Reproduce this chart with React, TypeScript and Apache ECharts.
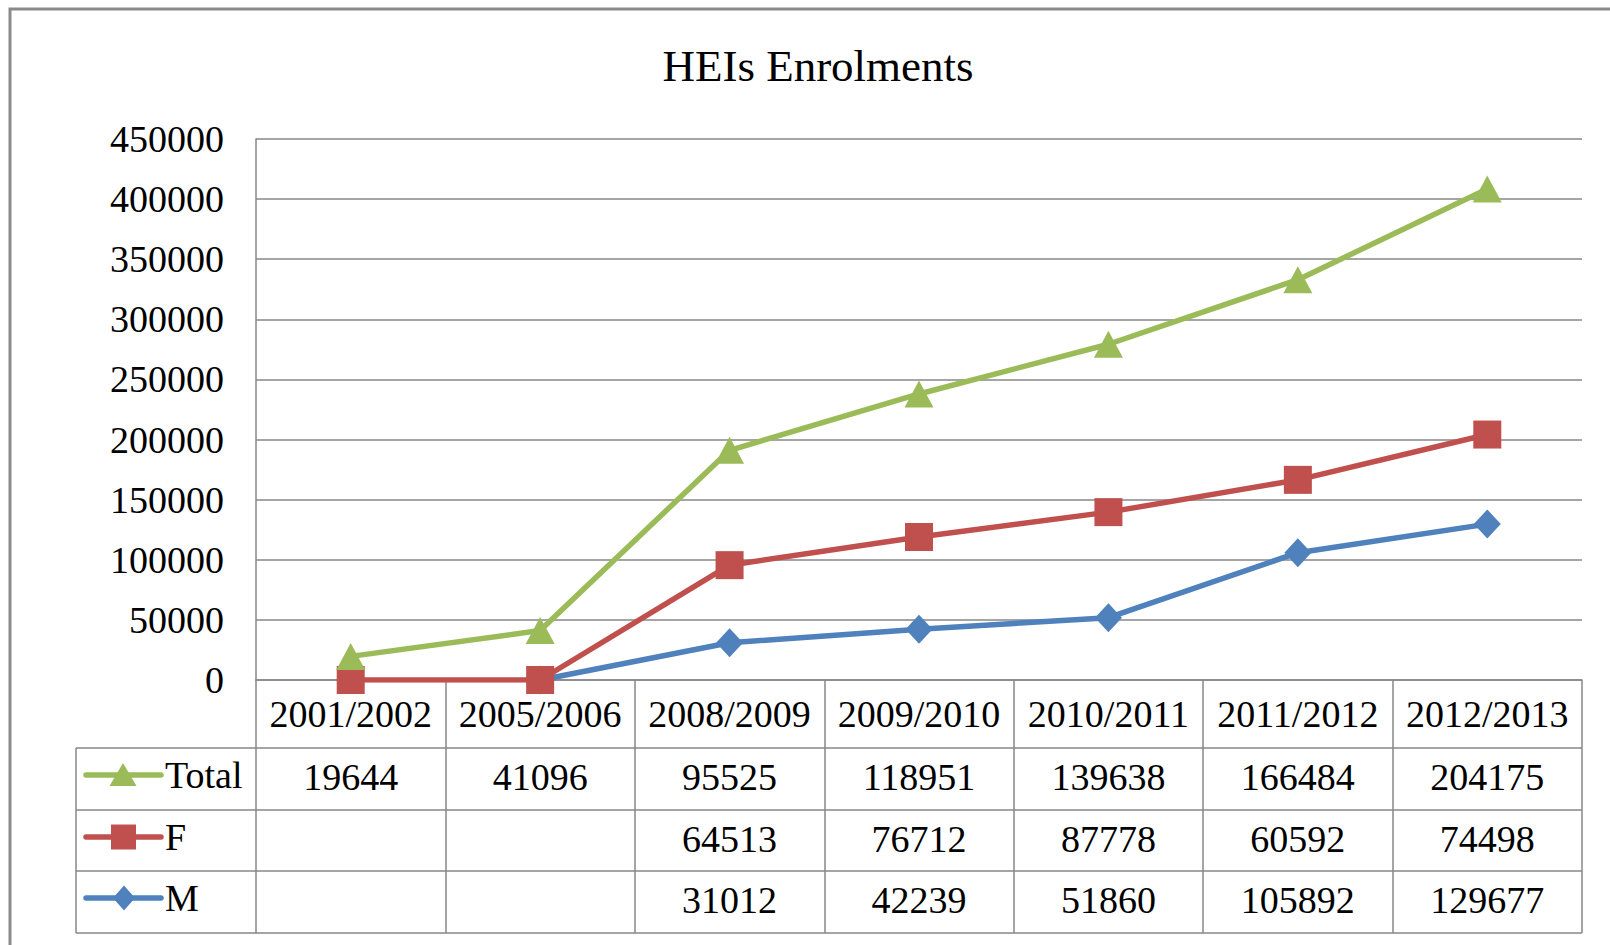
import React, { useEffect, useRef } from "react";
import * as echarts from "echarts";

// ---- data ----
const categories = ["2001/2002", "2005/2006", "2008/2009", "2009/2010", "2010/2011", "2011/2012", "2012/2013"];
const totalValues: (number | null)[] = [19644, 41096, 95525, 118951, 139638, 166484, 204175];
const fValues: (number | null)[] = [null, null, 64513, 76712, 87778, 60592, 74498];
const mValues: (number | null)[] = [null, null, 31012, 42239, 51860, 105892, 129677];
const seriesNames = ["Total", "F", "M"];
const Y_MIN = 0;
const Y_MAX = 450000;
const Y_STEP = 50000;
const chartTitle = "HEIs Enrolments";

const COLORS: Record<string, string> = { Total: "#9BBB59", F: "#C0504D", M: "#4F81BD" };
const FONT = "'Liberation Serif', 'Times New Roman', serif";
const GRID_COLOR = "#878787";

// Excel plotted blank F cells as zero; M starts from 2005/2006.
const fPlot = fValues.map((v) => (v == null ? 0 : v));
const mPlot = mValues.map((v, i) => (v == null ? (i === 0 ? null : 0) : v));

const tableRows: (number | null)[][] = [totalValues, fValues, mValues];

export default function App() {
  const ref = useRef<HTMLDivElement>(null);

  useEffect(() => {
    if (!ref.current) return;
    const chart = echarts.init(ref.current, null, { renderer: "svg" });

    const plotLeft = 256;
    const plotRight = 1582;
    const plotTop = 139;
    const plotBottom = 680;
    const tableLeft = 76;
    const rowLines = [748, 810, 871, 933];
    const rowCenters = [777, 839, 900];
    const headerCenter = 714;
    const labelMargin = 15;

    const textStyle = { fontFamily: FONT, fontSize: 38, color: "#000" };

    const valueAxes = tableRows.map((row, r) => ({
      type: "category" as const,
      gridIndex: 0,
      position: "bottom" as const,
      data: categories,
      boundaryGap: true,
      offset: rowCenters[r] - headerCenter,
      axisLine: { show: false },
      axisTick: { show: false },
      splitLine: { show: false },
      axisLabel: {
        ...textStyle,
        interval: 0,
        margin: labelMargin,
        formatter: (_v: string, i: number) => (row[i] == null ? "" : String(row[i])),
      },
    }));

    const graphics: any[] = [
      {
        type: "rect",
        shape: { x: 10, y: 9, width: 1800, height: 1100 },
        style: { fill: "none", stroke: "#8a8a8a", lineWidth: 3 },
        silent: true,
      },
      {
        type: "text",
        x: 818,
        y: 65.5,
        style: {
          text: chartTitle,
          fontFamily: FONT,
          fontSize: 45,
          fill: "#000",
          align: "center",
          verticalAlign: "middle",
        },
      },
    ];

    // table horizontal lines
    rowLines.forEach((y) => {
      graphics.push({
        type: "line",
        shape: { x1: tableLeft, y1: y, x2: plotRight, y2: y },
        style: { stroke: GRID_COLOR, lineWidth: 1.5 },
        silent: true,
      });
    });
    graphics.push({
      type: "line",
      shape: { x1: tableLeft, y1: rowLines[0], x2: tableLeft, y2: rowLines[rowLines.length - 1] },
      style: { stroke: GRID_COLOR, lineWidth: 1.5 },
      silent: true,
    });

    // legend keys in the table's first column
    seriesNames.forEach((name, r) => {
      const y = rowCenters[r] - 2;
      const c = COLORS[name];
      graphics.push({
        type: "line",
        shape: { x1: 86, y1: y, x2: 161, y2: y },
        style: { stroke: c, lineWidth: 5.5, lineCap: "round" },
      });
      if (name === "Total") {
        graphics.push({
          type: "polygon",
          shape: { points: [[123, y - 12], [136.5, y + 11], [109.5, y + 11]] },
          style: { fill: c },
        });
      } else if (name === "F") {
        graphics.push({
          type: "rect",
          shape: { x: 111, y: y - 12.5, width: 25, height: 25 },
          style: { fill: c },
        });
      } else {
        graphics.push({
          type: "polygon",
          shape: { points: [[124, y - 12.5], [135, y], [124, y + 12.5], [113, y]] },
          style: { fill: c },
        });
      }
      graphics.push({
        type: "text",
        x: 165,
        y: y,
        style: {
          text: name,
          fontFamily: FONT,
          fontSize: 38,
          fill: "#000",
          align: "left",
          verticalAlign: "middle",
        },
      });
    });

    const lineSeries = (name: string, data: (number | null)[], symbol: string, size: any) => ({
      name,
      type: "line" as const,
      stack: "enrolments",
      xAxisIndex: 0,
      yAxisIndex: 0,
      data,
      symbol,
      symbolSize: size,
      showAllSymbol: true,
      lineStyle: { color: COLORS[name], width: 5.5 },
      itemStyle: { color: COLORS[name] },
      emphasis: { disabled: true },
    });

    chart.setOption({
      animation: false,
      backgroundColor: "#fff",
      grid: {
        left: plotLeft,
        right: 1610 - plotRight,
        top: plotTop,
        bottom: 945 - plotBottom,
        containLabel: false,
      },
      xAxis: [
        {
          type: "category",
          gridIndex: 0,
          position: "bottom",
          data: categories,
          boundaryGap: true,
          axisLine: { show: true, lineStyle: { color: GRID_COLOR, width: 1.5 } },
          axisTick: {
            show: true,
            interval: 0,
            inside: false,
            length: rowLines[rowLines.length - 1] - plotBottom,
            lineStyle: { color: GRID_COLOR, width: 1.5 },
          },
          splitLine: { show: false },
          axisLabel: { ...textStyle, interval: 0, margin: labelMargin },
        },
        ...valueAxes,
      ],
      yAxis: {
        type: "value",
        min: Y_MIN,
        max: Y_MAX,
        interval: Y_STEP,
        axisLine: { show: true, lineStyle: { color: GRID_COLOR, width: 1.5 } },
        axisTick: { show: false },
        splitLine: { show: true, lineStyle: { color: GRID_COLOR, width: 1.5 } },
        axisLabel: { ...textStyle, margin: 32, formatter: (v: number) => String(v) },
      },
      series: [
        lineSeries("M", mPlot, "diamond", [27, 29]),
        lineSeries("F", fPlot, "rect", 28),
        lineSeries("Total", totalValues, "triangle", [29, 27]),
      ],
      graphic: graphics,
    });

    return () => chart.dispose();
  }, []);

  return (
    <div
      ref={ref}
      style={{ position: "fixed", left: 0, top: 0, width: 1610, height: 945, background: "#fff" }}
    />
  );
}
